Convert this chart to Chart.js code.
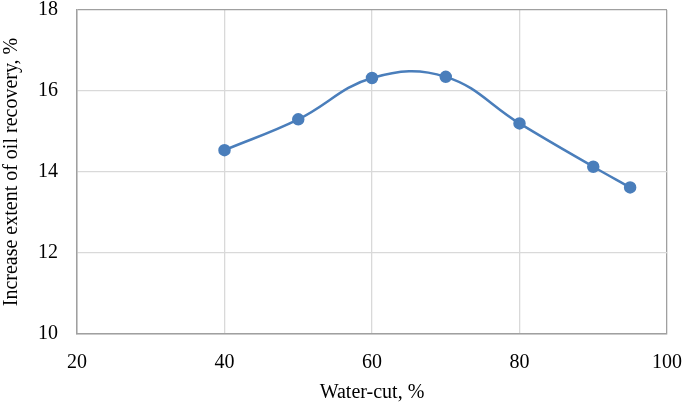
<!DOCTYPE html>
<html>
<head>
<meta charset="utf-8">
<script src="https://cdn.jsdelivr.net/npm/chart.js@4"></script>
<style>
  html, body { margin: 0; padding: 0; background: #fff; }
  #wrap { width: 685px; height: 405px; }
</style>
</head>
<body>
<div id="wrap"><canvas id="recoveryChart" width="685" height="405"></canvas></div>
<script>
// values
const waterCut = [40, 50, 60, 70, 80, 90, 95];
const recoveryIncrease = [14.54, 15.3, 16.32, 16.35, 15.2, 14.13, 13.62];
const xTicks = [20, 40, 60, 80, 100];
const yTicks = [10, 12, 14, 16, 18];

const points = waterCut.map((x, i) => ({ x: x, y: recoveryIncrease[i] }));

const serif = '"Liberation Serif", "Times New Roman", serif';
const edgeColor = '#a0a0a0';
const gridColor = '#d9d9d9';

const ctx = document.getElementById('recoveryChart').getContext('2d');
window.chart = new Chart(ctx, {
    type: 'line',
    data: {
        datasets: [{
            label: 'Increase extent of oil recovery',
            data: points,
            borderColor: '#4a7ebb',
            backgroundColor: '#4a7ebb',
            borderWidth: 2.5,
            pointRadius: 5,
            pointHoverRadius: 5,
            fill: false,
            tension: 0.4
        }]
    },
    options: {
        responsive: false,
        animation: false,
        layout: { padding: { top: 10, right: 18, left: 0, bottom: 0 } },
        plugins: {
            legend: { display: false },
            tooltip: { enabled: false }
        },
        scales: {
            x: {
                type: 'linear',
                min: xTicks[0],
                max: xTicks[xTicks.length - 1],
                afterBuildTicks: (scale) => { scale.ticks = xTicks.map(v => ({ value: v })); },
                afterFit: (scale) => {
                    scale.height = 71;
                    scale.paddingLeft = 0;
                    scale.paddingRight = 0;
                },
                ticks: {
                    padding: 17,
                    color: '#000',
                    font: { family: serif, size: 20 }
                },
                grid: {
                    drawTicks: false,
                    lineWidth: 1.3,
                    color: (c) => (c.tick && c.tick.value === 100) ? edgeColor : gridColor
                },
                border: { color: edgeColor, width: 1.5 },
                title: {
                    display: true,
                    text: 'Water-cut, %',
                    color: '#000',
                    font: { family: serif, size: 20 },
                    padding: { top: 0, bottom: 0 }
                }
            },
            y: {
                min: yTicks[0],
                max: yTicks[yTicks.length - 1],
                afterBuildTicks: (scale) => { scale.ticks = yTicks.map(v => ({ value: v })); },
                afterFit: (scale) => {
                    scale.width = 77;
                    scale.paddingTop = 0;
                    scale.paddingBottom = 0;
                },
                ticks: {
                    padding: 19,
                    color: '#000',
                    font: { family: serif, size: 20 }
                },
                grid: {
                    drawTicks: false,
                    lineWidth: 1.3,
                    color: (c) => (c.tick && c.tick.value === 18) ? edgeColor : gridColor
                },
                border: { color: edgeColor, width: 1.5 },
                title: {
                    display: true,
                    text: 'Increase extent of oil recovery, %',
                    color: '#000',
                    font: { family: serif, size: 20 },
                    padding: { top: 0, bottom: 0 }
                }
            }
        }
    }
});
</script>
</body>
</html>
